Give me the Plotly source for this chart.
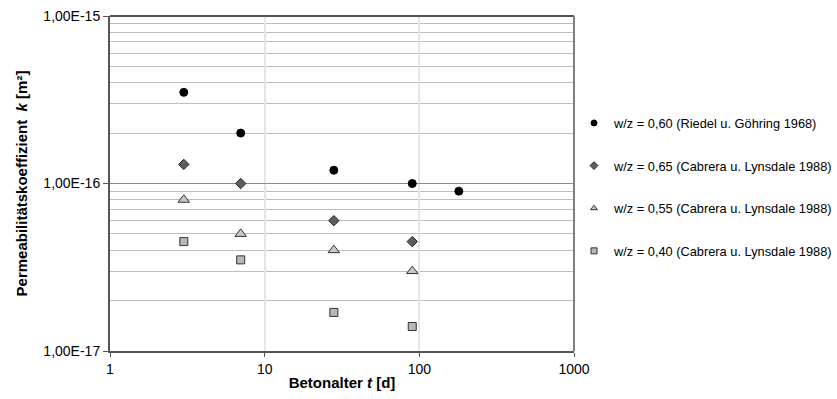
import plotly.graph_objects as go

# Concrete age t [d] and permeability coefficient k [m²]
t_riedel = [3, 7, 28, 90, 180]
k_riedel = [3.5e-16, 2.0e-16, 1.2e-16, 1.0e-16, 9.0e-17]

t_cab = [3, 7, 28, 90]
k_065 = [1.3e-16, 1.0e-16, 6.0e-17, 4.5e-17]
k_055 = [8.0e-17, 5.0e-17, 4.0e-17, 3.0e-17]
k_040 = [4.5e-17, 3.5e-17, 1.7e-17, 1.4e-17]

names = [
    "w/z = 0,60 (Riedel u. Göhring 1968)",
    "w/z = 0,65 (Cabrera u. Lynsdale 1988)",
    "w/z = 0,55 (Cabrera u. Lynsdale 1988)",
    "w/z = 0,40 (Cabrera u. Lynsdale 1988)",
]

x_ticks = [1, 10, 100, 1000]
x_ticktext = ["1", "10", "100", "1000"]
y_ticks = [1e-17, 1e-16, 1e-15]
y_ticktext = ["1,00E-17", "1,00E-16", "1,00E-15"]

FONT = "Liberation Sans, Arial, sans-serif"

series = [
    (t_riedel, k_riedel, dict(symbol="circle", size=8, color="black",
                               line=dict(color="black", width=1))),
    (t_cab, k_065, dict(symbol="diamond", size=8, color="#5e5e5e",
                         line=dict(color="#222222", width=1))),
    (t_cab, k_055, dict(symbol="triangle-up", size=10, color="#c8c8c8",
                         line=dict(color="#333333", width=1))),
    (t_cab, k_040, dict(symbol="square", size=8, color="#b8b8b8",
                         line=dict(color="#333333", width=1))),
]

fig = go.Figure()
for i, (xs, ys, mk) in enumerate(series):
    fig.add_trace(go.Scatter(x=xs, y=ys, mode="markers", marker=mk,
                             showlegend=False, hoverinfo="x+y"))
    # smaller symbol for the legend entry
    lm = dict(mk)
    lm["size"] = 6
    fig.add_trace(go.Scatter(x=[None], y=[None], mode="markers", marker=lm,
                             name=names[i], legendgroup=f"g{i}",
                             showlegend=True))

fig.update_layout(
    width=837, height=399,
    margin=dict(l=110, r=263, t=16, b=48, autoexpand=False),
    paper_bgcolor="white", plot_bgcolor="white",
    font=dict(family=FONT, color="black"),
    showlegend=True,
    legend=dict(x=1.0, xanchor="left", y=0.725, yanchor="top",
                font=dict(size=12.8, family=FONT), tracegroupgap=23,
                itemwidth=30, bgcolor="rgba(0,0,0,0)"),
)

fig.update_xaxes(
    type="log", range=[0, 3],
    tickvals=x_ticks, ticktext=x_ticktext,
    tickfont=dict(size=14, family=FONT),
    ticks="outside", ticklen=4, tickcolor="#555555", tickwidth=1,
    showgrid=True, gridcolor="#e6e6e6", gridwidth=2,
    showline=True, linecolor="#555555", linewidth=2, mirror=False,
    zeroline=False,
    title=dict(text="<b>Betonalter <i>t</i> [d]</b>",
               font=dict(size=15, family=FONT), standoff=2),
)

fig.update_yaxes(
    type="log", range=[-17, -15],
    tickvals=y_ticks, ticktext=y_ticktext,
    tickfont=dict(size=14, family=FONT),
    ticks="outside", ticklen=5, tickcolor="#555555", tickwidth=1,
    showgrid=True, gridcolor="#8c8c8c", gridwidth=1,
    minor=dict(dtick="D1", showgrid=True, gridcolor="#bdbdbd", gridwidth=1,
               ticks=""),
    showline=True, linecolor="#555555", linewidth=2,
    zeroline=False,
    title=dict(text="<b>Permeabilitätskoeffizient  <i>k</i> [m²]</b>",
               font=dict(size=15, family=FONT), standoff=12),
)

# plot frame on top and right
fig.add_shape(type="line", xref="paper", yref="paper", x0=0, x1=1, y0=1, y1=1,
              line=dict(color="#555555", width=2))
fig.add_shape(type="line", xref="paper", yref="paper", x0=1, x1=1, y0=0, y1=1,
              line=dict(color="#808080", width=2))

fig.write_html("out.html")
